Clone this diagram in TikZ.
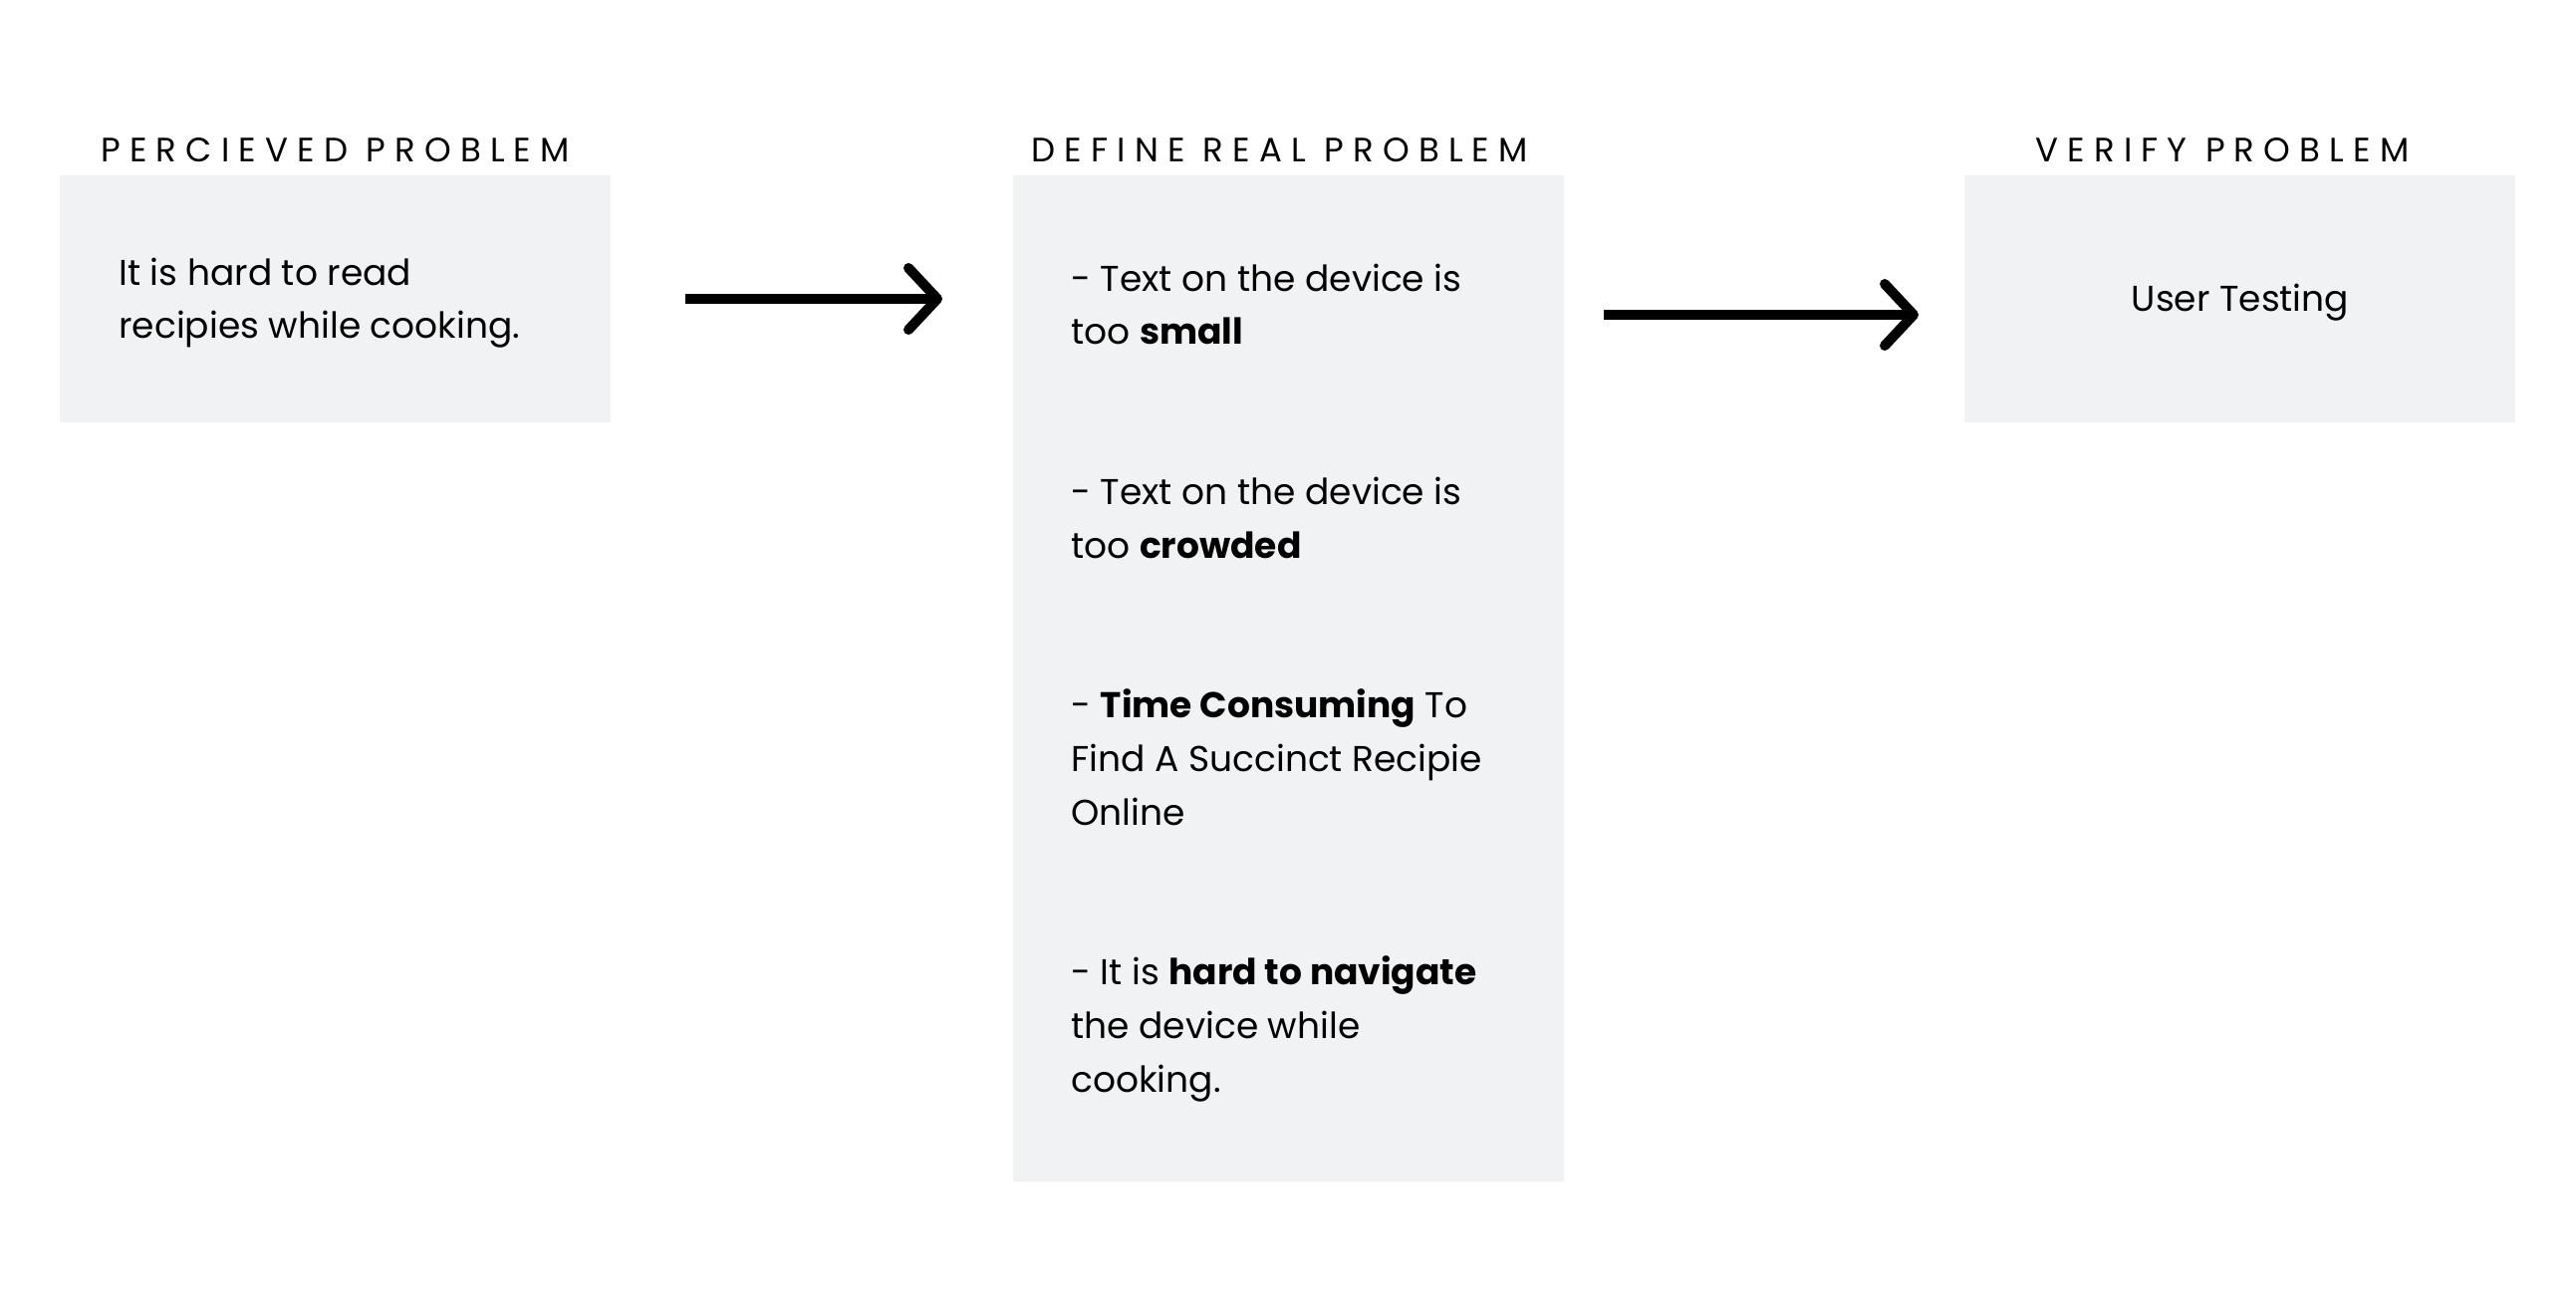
\documentclass[tikz,border=0pt]{standalone}
\usepackage{fontspec}
\setmainfont{Poppins}
\newfontfamily\headfont[LetterSpace=27]{Poppins}
\definecolor{boxgray}{HTML}{F1F2F4}
\tikzset{
  box/.style={rectangle, fill=boxgray, draw=none, inner sep=0pt, minimum width=276.5pt},
  heading/.style={anchor=base west, inner sep=0pt, font=\headfont\fontsize{17pt}{20pt}\selectfont},
  body/.style={anchor=base west, inner sep=0pt, align=left, font=\fontsize{18pt}{26.8pt}\selectfont},
  conn/.style={line width=5pt, line cap=butt},
  head/.style={line width=5pt, line cap=round, line join=round}
}
\begin{document}
\begin{tikzpicture}[x=0.5pt,y=-0.5pt]
\useasboundingbox (0,0) rectangle (2586,1306);
\fill[white] (0,0) rectangle (2586,1306);
% boxes
\node[box, minimum height=124pt] (b1) at (336.5,300) {};
\node[box, minimum height=505pt] (b2) at (1293,681) {};
\node[box, minimum height=124pt] (b3) at (2248.5,300) {};
% headings
\node[heading] (h1) at (101,162) {PERCIEVED PROBLEM};
\node[heading] (h2) at (1035,162) {DEFINE REAL PROBLEM};
\node[heading] (h3) at (2043,162) {VERIFY PROBLEM};
% texts (anchored at the baseline of their last line)
\node[body] (t1) at (119,339.6) {It is hard to read\\recipies while cooking.};
\node[body] (t2) at (1075,1096) {- Text on the device is\\too \textbf{small}\\\mbox{}\\\mbox{}\\
- Text on the device is\\too \textbf{crowded}\\\mbox{}\\\mbox{}\\
- \textbf{Time Consuming} To\\Find A Succinct Recipie\\Online\\\mbox{}\\\mbox{}\\
- It is \textbf{hard to navigate}\\the device while\\cooking.};
\node[body, anchor=base] (t3) at (2249,312) {User Testing};
% connectors
\coordinate (s1) at (688,300);
\coordinate (e1) at (941,300);
\coordinate (s2) at (1610,316);
\coordinate (e2) at (1921,316);
\draw[conn] (s1) -- (e1);
\draw[head] ([shift={(-29,-31)}]e1) -- (e1) -- ([shift={(-29,31)}]e1);
\draw[conn] (s2) -- (e2);
\draw[head] ([shift={(-29,-31)}]e2) -- (e2) -- ([shift={(-29,31)}]e2);
\end{tikzpicture}
\end{document}
